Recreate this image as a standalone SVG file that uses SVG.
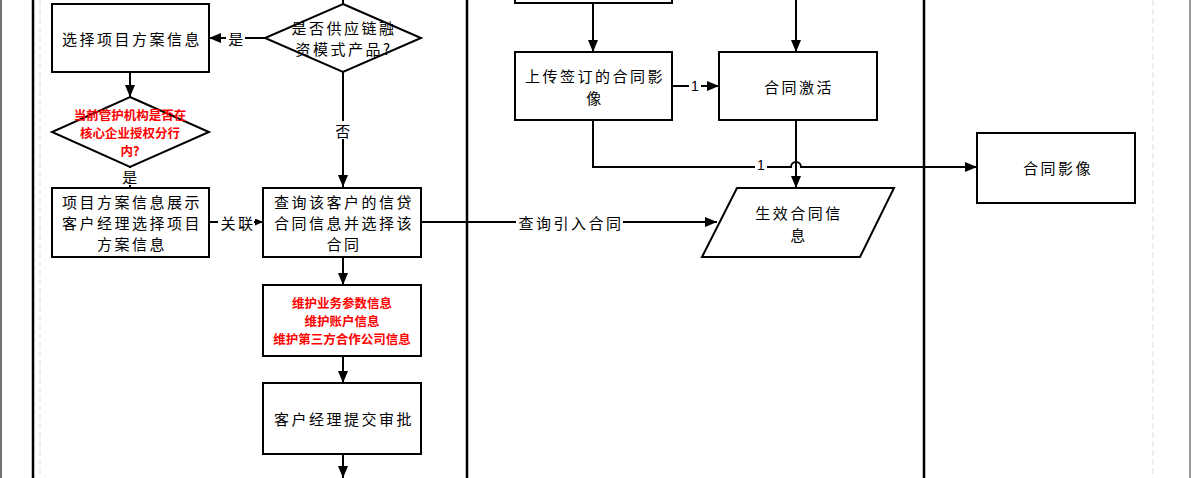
<svg xmlns="http://www.w3.org/2000/svg" width="1191" height="478" viewBox="0 0 1191 478">
<style>
.box{fill:#fff;stroke:#000;stroke-width:2}
.t{font-family:"Noto Sans CJK SC","Liberation Sans",sans-serif;font-size:15px;letter-spacing:2.5px;fill:#000;text-anchor:middle;dominant-baseline:central}
.r{font-family:"Noto Sans CJK SC","Liberation Sans",sans-serif;font-size:12.5px;font-weight:bold;fill:#ff0000;text-anchor:middle;dominant-baseline:central}
.n{font-family:"Liberation Sans",sans-serif;font-size:14px;fill:#000;text-anchor:middle;dominant-baseline:central}
.c{fill:none;stroke:#000;stroke-width:2}
.lane{stroke:#000;stroke-width:2.5}
.dash{stroke:#ddd;stroke-width:1;stroke-dasharray:6 3}
.lbg{fill:#fff}
</style>
<defs>
<marker id="a" viewBox="0 0 12 10" refX="12" refY="5" markerWidth="12" markerHeight="10" markerUnits="userSpaceOnUse" orient="auto"><path d="M0,0 L12,5 L0,10 z" fill="#000"/></marker>
<marker id="s" viewBox="0 0 8 7" refX="8" refY="3.5" markerWidth="8" markerHeight="7" markerUnits="userSpaceOnUse" orient="auto"><path d="M0,0 L8,3.5 L0,7 z" fill="#000"/></marker>
</defs>
<rect width="1191" height="478" fill="#fff"/>
<g id="lanes">
<line x1="1" y1="0" x2="1" y2="478" stroke="#444" stroke-width="1.5"/>
<line class="lane" x1="33" y1="0" x2="33" y2="478"/>
<line class="dash" x1="40" y1="0" x2="40" y2="478"/>
<line class="lane" x1="467" y1="0" x2="467" y2="478"/>
<line class="lane" x1="924" y1="0" x2="924" y2="478"/>
<line class="dash" x1="1153" y1="0" x2="1153" y2="478"/>
<line x1="1190" y1="0" x2="1190" y2="478" stroke="#777" stroke-width="1.5"/>
</g>
<g id="connectors">
<path class="c" d="M343,0 V4"/>
<path class="c" d="M265,38 H209" marker-end="url(#a)"/>
<path class="c" d="M343,72 V187" marker-end="url(#a)"/>
<path class="c" d="M130,72 V97" marker-end="url(#a)"/>
<path class="c" d="M130,167 V188" marker-end="url(#s)"/>
<path class="c" d="M209,222 H263" marker-end="url(#s)"/>
<path class="c" d="M421,222 H717" marker-end="url(#a)"/>
<path class="c" d="M343,257 V285" marker-end="url(#a)"/>
<path class="c" d="M343,356 V383" marker-end="url(#a)"/>
<path class="c" d="M343,454 V478" marker-end="url(#a)"/>
<path class="c" d="M593,3 V52" marker-end="url(#a)"/>
<path class="c" d="M796,0 V52" marker-end="url(#a)"/>
<path class="c" d="M672,86 H719" marker-end="url(#a)"/>
<path class="c" d="M593,120 V167 H791 A5,5 0 0 1 801,167 H977" marker-end="url(#a)"/>
<path class="c" d="M796,120 V188" marker-end="url(#a)"/>
<rect class="lbg" x="226" y="29" width="19" height="18"/>
<text class="t" x="237" y="38">是</text>
<rect class="lbg" x="333" y="121" width="20" height="18"/>
<text class="t" x="344" y="130">否</text>
<rect class="lbg" x="121" y="168" width="19" height="17"/>
<text class="t" x="131" y="176">是</text>
<rect class="lbg" x="218" y="213" width="36" height="18"/>
<text class="t" x="238" y="222">关联</text>
<rect class="lbg" x="516" y="213" width="107" height="18"/>
<text class="t" x="571" y="222">查询引入合同</text>
<rect class="lbg" x="689" y="78" width="12" height="16"/>
<text class="n" x="695" y="86">1</text>
<rect class="lbg" x="755" y="159" width="12" height="16"/>
<text class="n" x="761" y="165">1</text>
</g>
<g id="n1"><rect class="box" x="52" y="4" width="157" height="68"/><text class="t" x="132" y="38">选择项目方案信息</text></g>
<g id="n2"><polygon class="box" points="343,4 421,38 343,72 265,38"/><text class="t" x="344" y="27">是否供应链融</text><text class="t" x="344" y="48">资模式产品?</text></g>
<g id="n3"><polygon class="box" points="130,97 209,132 130,167 52,132"/><text class="r" x="130" y="114">当前管护机构是否在</text><text class="r" x="130" y="132">核心企业授权分行</text><text class="r" x="130" y="150">内?</text></g>
<g id="n4"><rect class="box" x="52" y="188" width="157" height="69"/><text class="t" x="132" y="201">项目方案信息展示</text><text class="t" x="132" y="222">客户经理选择项目</text><text class="t" x="132" y="243">方案信息</text></g>
<g id="n5"><rect class="box" x="263" y="188" width="158" height="69"/><text class="t" x="344" y="201">查询该客户的信贷</text><text class="t" x="344" y="222">合同信息并选择该</text><text class="t" x="344" y="243">合同</text></g>
<g id="n6"><rect class="box" x="263" y="285" width="158" height="71"/><text class="r" x="342" y="302">维护业务参数信息</text><text class="r" x="342" y="320">维护账户信息</text><text class="r" x="342" y="338">维护第三方合作公司信息</text></g>
<g id="n7"><rect class="box" x="263" y="383" width="158" height="71"/><text class="t" x="344" y="418">客户经理提交审批</text></g>
<g id="n8"><rect class="box" x="515" y="-20" width="157" height="23"/></g>
<g id="n9"><rect class="box" x="515" y="52" width="157" height="68"/><text class="t" x="595" y="75">上传签订的合同影</text><text class="t" x="595" y="97">像</text></g>
<g id="n10"><rect class="box" x="719" y="52" width="158" height="68"/><text class="t" x="799" y="86">合同激活</text></g>
<g id="n11"><polygon class="box" points="737,188 894,188 860,257 702,257"/><text class="t" x="799" y="212">生效合同信</text><text class="t" x="799" y="234">息</text></g>
<g id="n12"><rect class="box" x="977" y="133" width="158" height="70"/><text class="t" x="1058" y="167">合同影像</text></g>
</svg>
